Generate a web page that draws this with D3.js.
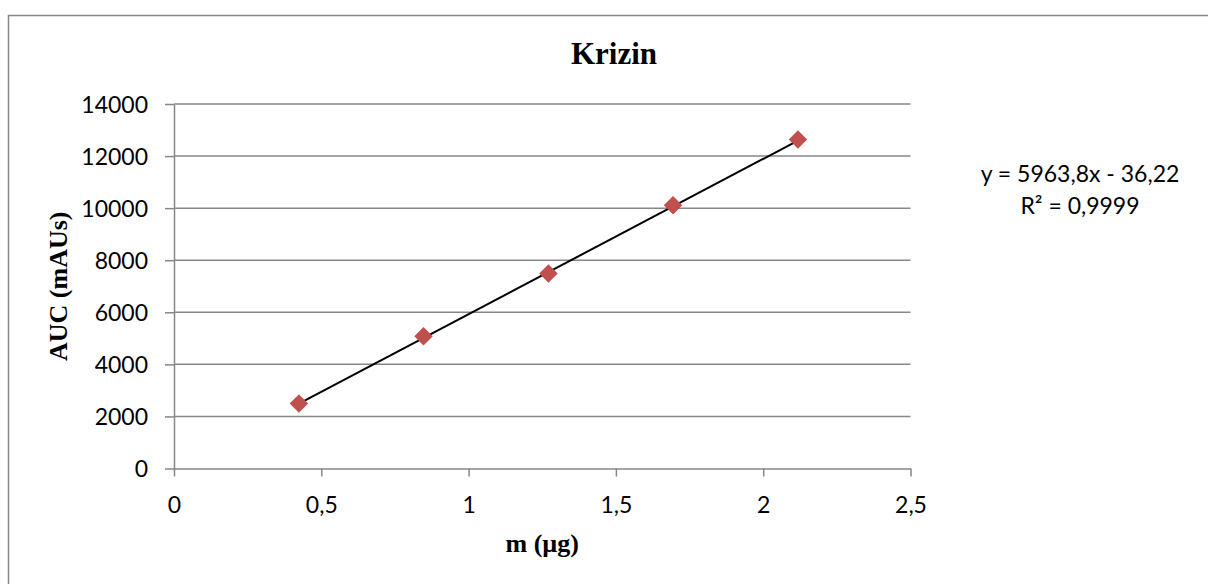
<!DOCTYPE html>
<html lang="en">
<head>
  <meta charset="UTF-8">
  <title>Krizin</title>
  <script src="https://d3js.org/d3.v7.min.js"></script>
  <style>
    body { margin: 0; padding: 0; background: #fff; }
    .tick text { font-family: Lato, "Open Sans", sans-serif; font-size: 23px; fill: #000; }
  </style>
</head>
<body>
  <div id="vis"></div>
  <script>
    // data
    const massUg = [0.424, 0.847, 1.271, 1.694, 2.118];
    const aucMAUs = [2495, 5080, 7490, 10110, 12640];
    const xTicks = [0, 0.5, 1, 1.5, 2, 2.5];
    const yTicks = [0, 2000, 4000, 6000, 8000, 10000, 12000, 14000];
    const slope = 5963.8, intercept = -36.22;
    const eqLines = ["y = 5963,8x - 36,22", "R² = 0,9999"];

    const width = 1208, height = 584;
    const margin = { top: 104, right: 298, bottom: 115, left: 174 };
    const grey = "#878787";

    const svg = d3.select("#vis").append("svg")
      .attr("width", width)
      .attr("height", height);

    // chart frame (runs off the right and bottom of the picture)
    svg.append("rect")
      .attr("x", 8.5).attr("y", 15.5)
      .attr("width", 1230).attr("height", 620)
      .attr("fill", "none")
      .attr("stroke", grey)
      .attr("stroke-width", 1.5);

    const x = d3.scaleLinear().domain([0, 2.5]).range([margin.left, width - margin.right + 0.5]);
    const y = d3.scaleLinear().domain([0, 14000]).range([height - margin.bottom - 0.5, margin.top]);

    // gridlines
    svg.append("g")
      .selectAll("line")
      .data(yTicks.filter(d => d > 0))
      .enter().append("line")
      .attr("x1", x(0)).attr("x2", x(2.5))
      .attr("y1", d => y(d)).attr("y2", d => y(d))
      .attr("stroke", grey)
      .attr("stroke-width", 1.5);

    const fmt = d => String(d).replace(".", ",");

    const xAxis = svg.append("g")
      .attr("transform", `translate(0,${y(0)})`)
      .call(d3.axisBottom(x).tickValues(xTicks).tickFormat(fmt).tickSize(8).tickSizeOuter(0).tickPadding(20));

    const yAxis = svg.append("g")
      .attr("transform", `translate(${x(0)},0)`)
      .call(d3.axisLeft(y).tickValues(yTicks).tickFormat(d => d).tickSize(9).tickSizeOuter(0).tickPadding(17));

    [xAxis, yAxis].forEach(a => {
      a.select(".domain").attr("stroke", grey).attr("stroke-width", 1.5);
      a.selectAll(".tick line").attr("stroke", grey).attr("stroke-width", 1.5);
    });
    xAxis.selectAll(".tick text").attr("dy", "0.72em");
    yAxis.selectAll(".tick text").attr("dy", "0.36em");

    // linear trendline over the data range
    const x0 = d3.min(massUg), x1 = d3.max(massUg);
    svg.append("line")
      .attr("x1", x(x0)).attr("y1", y(slope * x0 + intercept))
      .attr("x2", x(x1)).attr("y2", y(slope * x1 + intercept))
      .attr("stroke", "#000")
      .attr("stroke-width", 2);

    // diamond markers
    const diamond = d3.symbol().type(d3.symbolSquare).size(170);
    svg.append("g")
      .selectAll("path")
      .data(massUg.map((m, i) => [m, aucMAUs[i]]))
      .enter().append("path")
      .attr("d", diamond)
      .attr("transform", d => `translate(${x(d[0])},${y(d[1])}) rotate(45)`)
      .attr("fill", "#C0504D");

    // title and axis titles
    svg.append("text")
      .attr("x", 614).attr("y", 64)
      .attr("text-anchor", "middle")
      .style("font-family", "'Liberation Serif', 'Times New Roman', serif")
      .style("font-weight", "bold")
      .style("font-size", "31px")
      .text("Krizin");

    svg.append("text")
      .attr("x", (x(0) + x(2.5)) / 2).attr("y", 552)
      .attr("text-anchor", "middle")
      .style("font-family", "'Liberation Serif', 'Times New Roman', serif")
      .style("font-weight", "bold")
      .style("font-size", "26px")
      .text("m (µg)");

    svg.append("text")
      .attr("transform", `translate(67,${(y(0) + y(14000)) / 2}) rotate(-90)`)
      .attr("text-anchor", "middle")
      .style("font-family", "'Liberation Serif', 'Times New Roman', serif")
      .style("font-weight", "bold")
      .style("font-size", "26px")
      .text("AUC (mAUs)");

    // trendline equation
    svg.append("g")
      .selectAll("text")
      .data(eqLines)
      .enter().append("text")
      .attr("x", 1080)
      .attr("y", (d, i) => 182 + i * 32)
      .attr("text-anchor", "middle")
      .style("font-family", "Lato, 'Open Sans', sans-serif")
      .style("font-size", "23px")
      .text(d => d);
  </script>
</body>
</html>
